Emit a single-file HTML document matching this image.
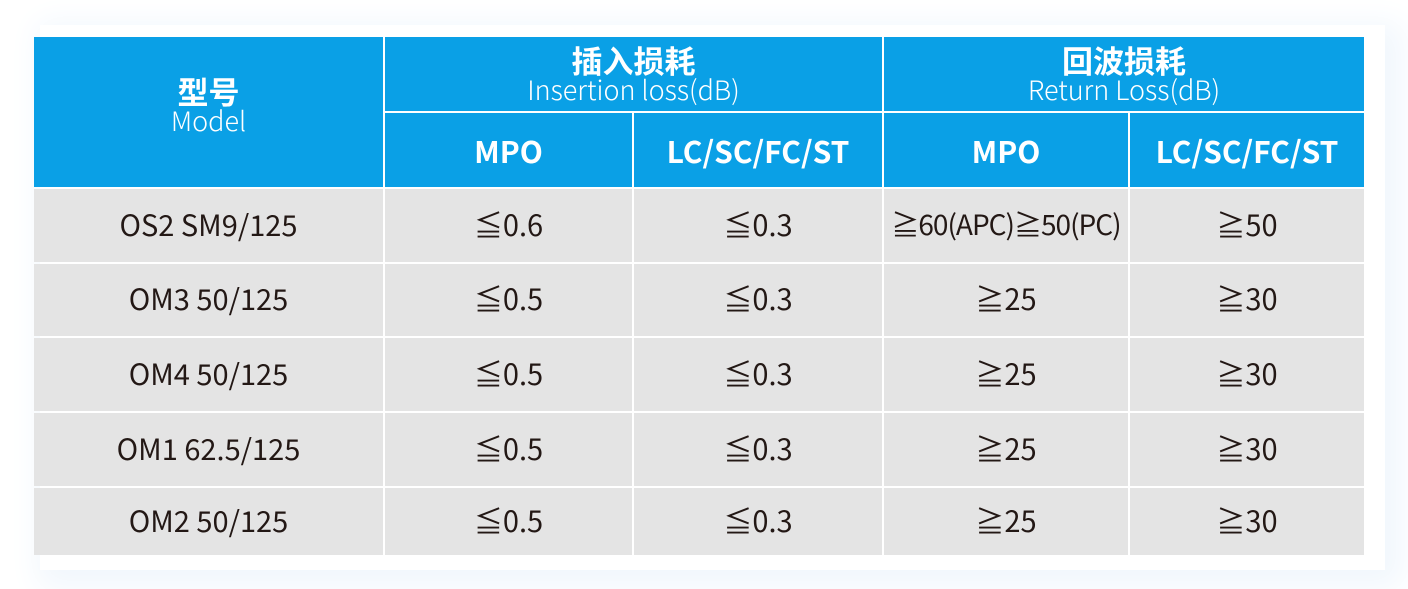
<!DOCTYPE html><html><head><meta charset="utf-8"><style>
html,body{margin:0;width:1408px;height:589px;background:#fff;overflow:hidden}
body{position:relative;font-family:"Liberation Sans","Noto Sans CJK SC",sans-serif}
.sh{position:absolute;left:40px;top:25px;width:1345px;height:545px;box-shadow:8px 8px 30px 10px #f1f7fd;background:#fff}
.c{position:absolute;display:flex;flex-direction:column;align-items:center;justify-content:center;text-align:center;box-sizing:border-box}
.h{background:#0aa0e6;color:#fff}
.b{background:#e4e4e4;color:#231815;font-size:29px;padding-bottom:4px;font-family:"Noto Sans CJK SC","Liberation Sans",sans-serif}
.t{font-weight:bold;font-size:31px;font-family:"Noto Sans CJK SC",sans-serif;line-height:30px}
.s{font-size:27px;line-height:28px;font-family:"Noto Sans CJK SC",sans-serif;font-weight:300}
.m{font-weight:bold;font-size:30px;font-family:"Noto Sans CJK SC",sans-serif}
</style></head><body>
<div class="sh"></div>
<div class="c h" style="left:34px;top:37px;width:349px;height:150px;padding-bottom:14px"><div class="t">型号</div><div class="s">Model</div></div>
<div class="c h" style="left:385px;top:37px;width:497px;height:74px"><div class="t">插入损耗</div><div class="s">Insertion loss(dB)</div></div>
<div class="c h" style="left:884px;top:37px;width:480px;height:74px"><div class="t">回波损耗</div><div class="s">Return Loss(dB)</div></div>
<div class="c h m" style="left:385px;top:113px;width:247px;height:74px">MPO</div>
<div class="c h m" style="left:634px;top:113px;width:248px;height:74px">LC/SC/FC/ST</div>
<div class="c h m" style="left:884px;top:113px;width:244px;height:74px">MPO</div>
<div class="c h m" style="left:1130px;top:113px;width:234px;height:74px">LC/SC/FC/ST</div>
<div id="rows"></div>
<script>
var R=[["OS2 SM9/125","≦0.6","≦0.3","≧60(APC)≧50(PC)","≧50"],["OM3 50/125","≦0.5","≦0.3","≧25","≧30"],["OM4 50/125","≦0.5","≦0.3","≧25","≧30"],["OM1 62.5/125","≦0.5","≦0.3","≧25","≧30"],["OM2 50/125","≦0.5","≦0.3","≧25","≧30"]];
var X=[[34,349],[385,247],[634,248],[884,244],[1130,234]],Y=[[189,73],[264,72],[338,73],[413,73],[488,67]],h="";
R.forEach(function(r,i){r.forEach(function(v,j){h+='<div class="c b" style="left:'+X[j][0]+'px;top:'+Y[i][0]+'px;width:'+X[j][1]+'px;height:'+Y[i][1]+'px;'+(j==3&&i==0?'font-size:28px;letter-spacing:-1px':'')+'">'+v+'</div>'})});
document.getElementById('rows').innerHTML=h;
</script>
</body></html>
